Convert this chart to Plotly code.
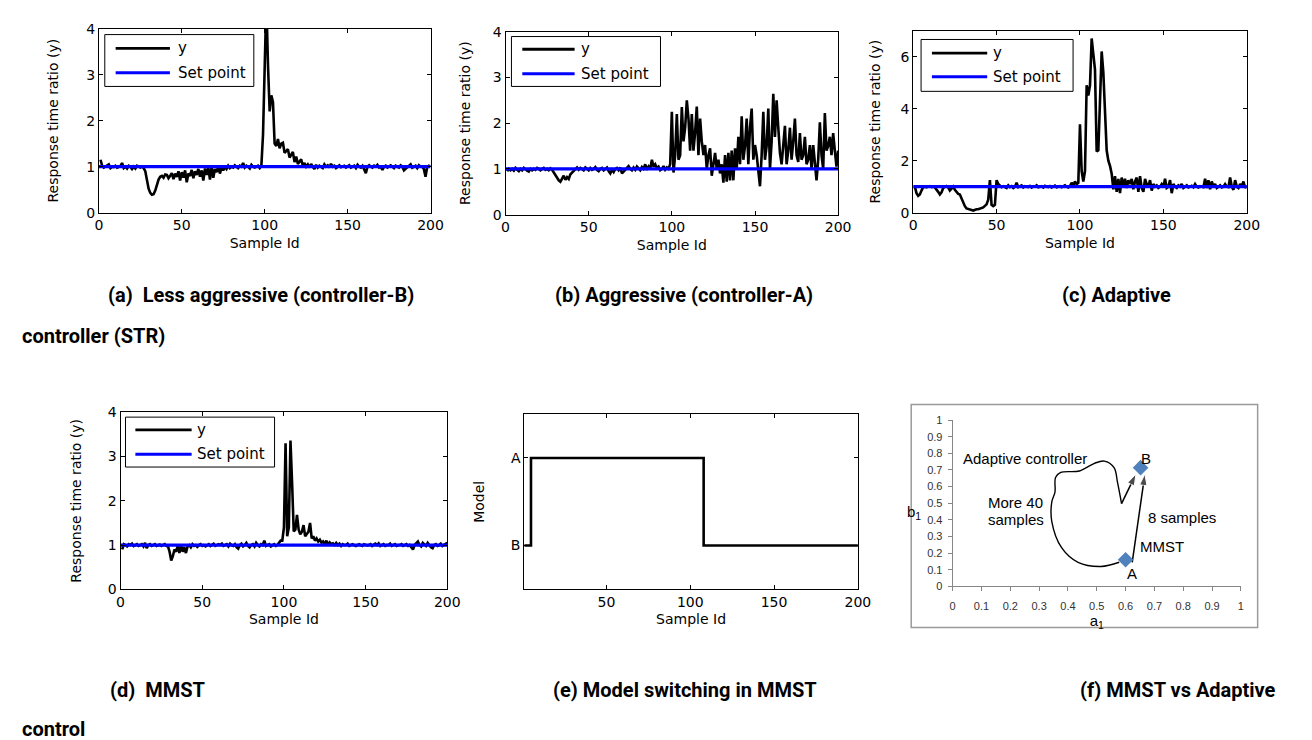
import plotly.graph_objects as go

W, H = 1312, 740

# ---------------- data ----------------
sample_id = list(range(1, 201))

y_less_aggressive = [
    1.15, 1.02, 0.98, 1.0, 1.03, 1.05, 0.97, 1.0, 0.99, 1.02,
    0.98, 1.0, 1.01, 1.08, 0.97, 1.0, 0.96, 1.02, 1.0, 0.95,
    1.0, 0.96, 1.02, 1.0, 0.98, 1.0, 0.97, 0.9, 0.7, 0.52,
    0.43, 0.39, 0.4, 0.48, 0.6, 0.72, 0.78, 0.8, 0.76, 0.83,
    0.82, 0.75, 0.8, 0.86, 0.73, 0.85, 0.78, 0.9, 0.7, 0.88,
    0.76, 0.92, 0.66, 0.85, 0.8, 0.93, 0.75, 0.9, 0.82, 0.95,
    0.78, 0.92, 0.7, 0.96, 0.82, 0.98, 0.72, 1.0, 0.76, 0.95,
    0.88, 1.0, 0.85, 0.98, 0.92, 1.0, 0.95, 1.02, 0.97, 1.0,
    0.98, 1.03, 1.0, 0.97, 1.02, 1.0, 1.08, 0.98, 1.02, 1.0,
    0.96, 1.04, 1.0, 0.98, 1.0, 1.02, 0.97, 1.02, 1.7, 3.0,
    4.6, 3.2, 2.2, 2.55, 2.4, 1.5, 1.45, 1.6, 1.4, 1.5,
    1.52, 1.3, 1.35, 1.38, 1.2, 1.25, 1.32, 1.1, 1.22, 1.06,
    1.1, 1.16, 1.02, 1.08, 1.0, 1.05, 0.98, 1.06, 1.0, 0.95,
    1.04, 0.98, 1.02, 1.0, 0.97, 1.05, 1.0, 1.03, 0.98, 1.06,
    1.0, 1.02, 0.97, 1.0, 1.03, 0.99, 1.0, 1.02, 0.98, 1.0,
    1.03, 0.98, 1.0, 1.02, 0.97, 1.04, 1.0, 0.98, 1.02, 0.93,
    0.86, 1.0, 1.03, 1.0, 0.98, 1.02, 1.0, 1.04, 0.98, 1.0,
    0.93, 1.0, 1.02, 0.98, 1.0, 1.03, 1.0, 0.97, 1.02, 1.0,
    0.98, 1.03, 1.0, 0.92, 0.95, 1.0, 1.02, 1.05, 0.98, 1.0,
    1.02, 0.97, 1.03, 1.0, 1.0, 0.95, 0.78, 1.0, 1.02, 1.0,
]

y_aggressive = [
    0.95, 1.0, 0.97, 1.0, 0.96, 1.02, 0.98, 0.95, 1.0, 0.97,
    1.02, 0.98, 0.96, 0.94, 1.0, 0.97, 1.0, 0.98, 1.02, 1.0,
    0.97, 1.0, 1.02, 0.98, 1.0, 0.97, 1.01, 0.98, 0.92, 0.88,
    0.8, 0.75, 0.72, 0.8, 0.85, 0.76, 0.82, 0.78, 0.88, 0.92,
    0.95, 1.0, 1.03, 0.98, 1.02, 1.0, 0.97, 1.03, 1.0, 0.97,
    1.02, 0.98, 1.0, 1.04, 0.98, 0.95, 1.0, 1.02, 0.97, 1.0,
    1.03, 0.95, 0.9, 0.98, 0.93, 1.0, 1.02, 0.97, 1.03, 0.9,
    0.93, 0.98, 1.02, 1.06, 1.0, 0.97, 1.03, 0.98, 1.05, 1.0,
    0.97, 1.04, 1.0, 1.1, 0.98, 1.05, 1.0, 1.2, 1.05, 1.1,
    1.02, 1.05, 0.97, 1.0, 1.06, 0.98, 1.03, 1.0, 1.1, 2.25,
    0.92, 1.3, 2.2, 1.2, 1.3, 2.35, 1.6, 1.9, 2.5, 2.1,
    1.4, 2.2, 1.4, 1.8, 2.36, 1.3, 2.1, 1.6, 1.3, 1.52,
    1.0, 1.3, 1.45, 0.85, 1.1, 1.35, 1.0, 1.2, 0.9, 1.1,
    0.7, 1.3, 0.72, 1.35, 0.75, 1.4, 0.75, 1.45, 1.0, 1.7,
    1.1, 2.15, 1.2, 1.5, 2.1, 1.1, 1.9, 2.32, 1.2, 1.52,
    1.3, 1.0, 0.62, 1.3, 2.25, 1.2, 1.5, 2.32, 1.0, 1.6,
    2.64, 1.7, 2.5, 1.9, 1.35, 1.1, 1.5, 1.94, 1.1, 1.4,
    1.9, 1.2, 1.6, 2.1, 1.3, 1.15, 1.78, 1.2, 1.3, 1.7,
    1.1, 1.2, 1.52, 1.0, 1.52, 1.1, 0.75, 1.2, 2.02, 1.3,
    1.0, 2.22, 1.4, 1.5, 1.7, 1.3, 1.78, 1.4, 1.05, 1.4,
]

y_adaptive = [
    1.0, 0.75, 0.65, 0.7, 0.85, 0.98, 1.0, 0.97, 1.0, 1.02,
    0.98, 1.0, 0.97, 0.9, 0.8, 0.7, 0.78, 0.95, 1.0, 1.02,
    0.97, 0.85, 0.92, 1.0, 0.88, 0.8, 0.72, 0.7, 0.55, 0.38,
    0.25, 0.16, 0.13, 0.12, 0.1, 0.08, 0.12, 0.13, 0.13, 0.15,
    0.16, 0.2, 0.26, 0.32, 0.5, 1.25, 0.3, 0.25, 0.3, 1.25,
    1.1, 1.05, 0.98, 1.02, 1.0, 0.95, 1.05, 0.98, 1.02, 0.95,
    1.0, 1.15, 0.98, 1.0, 1.05, 0.97, 1.02, 1.0, 0.98, 1.03,
    0.97, 1.02, 1.0, 1.05, 0.98, 1.0, 1.02, 0.97, 1.03, 1.0,
    0.98, 1.02, 0.97, 1.0, 1.04, 0.98, 1.0, 1.02, 0.98, 1.0,
    1.05, 1.0, 0.97, 1.02, 1.15, 1.05, 1.2, 1.1, 1.15, 3.4,
    1.6, 1.2, 1.6, 4.9, 4.5, 4.9, 6.7, 6.1, 5.5, 2.35,
    2.4, 4.3, 6.2, 5.4, 4.1, 2.4, 2.0, 1.8, 1.5, 0.9,
    1.4, 0.8, 1.3, 0.75, 1.35, 1.0, 1.3, 0.95, 1.25, 1.1,
    1.3, 0.9, 1.2, 1.35, 0.8, 1.4, 0.95, 0.8, 1.3, 1.1,
    1.0, 1.25, 0.85, 1.1, 1.0, 1.05, 0.95, 1.0, 1.1, 1.0,
    1.3, 0.95, 1.0, 1.25, 0.75, 1.1, 1.0, 0.95, 1.05, 1.0,
    1.1, 0.95, 1.0, 1.05, 0.97, 1.0, 1.03, 0.98, 1.1, 1.0,
    0.97, 1.02, 1.0, 0.98, 1.3, 0.95, 1.25, 0.9, 1.2, 1.0,
    1.1, 0.95, 1.0, 1.05, 0.97, 1.0, 1.1, 1.0, 0.98, 1.35,
    1.0, 0.88, 1.25, 1.0, 0.95, 1.1, 1.0, 1.2, 0.95, 1.05,
]

y_mmst = [
    0.9, 1.02, 1.0, 0.97, 1.02, 1.0, 1.03, 0.98, 1.0, 1.02,
    0.98, 1.0, 1.02, 0.97, 1.05, 0.93, 1.0, 1.02, 0.98, 1.0,
    1.02, 0.98, 1.0, 1.01, 0.98, 1.0, 1.02, 0.98, 0.97, 0.85,
    0.65, 0.75, 0.9, 0.85, 0.98, 0.82, 1.0, 0.85, 0.95, 0.82,
    0.97, 1.0, 0.95, 1.02, 0.98, 1.0, 0.96, 1.0, 1.02, 0.98,
    1.0, 0.97, 1.0, 1.02, 0.98, 1.0, 1.03, 0.98, 1.0, 1.02,
    1.0, 1.03, 0.98, 1.0, 1.02, 0.97, 1.03, 1.0, 0.98, 1.02,
    0.95, 0.92, 1.0, 1.03, 0.97, 1.0, 1.05, 0.98, 0.95, 1.0,
    1.02, 0.97, 1.05, 1.0, 0.97, 1.02, 1.0, 1.1, 0.98, 1.0,
    1.02, 0.97, 1.0, 1.02, 0.98, 1.0, 1.05, 1.1, 1.1, 1.4,
    3.3, 1.2, 1.4, 3.36, 2.4, 1.31, 1.35, 1.68, 1.35, 1.24,
    1.3, 1.45, 1.2, 1.25, 1.3, 1.5, 1.15, 1.2, 1.1, 1.15,
    1.08, 1.12, 1.05, 1.08, 1.02, 1.1, 1.0, 1.06, 1.02, 1.04,
    1.0, 1.05, 1.0, 1.03, 0.98, 1.02, 1.0, 1.0, 1.03, 0.98,
    1.0, 1.02, 1.0, 0.98, 1.0, 1.02, 1.0, 0.98, 1.02, 1.0,
    0.99, 1.0, 1.02, 0.98, 1.0, 1.03, 1.0, 1.04, 0.98, 1.0,
    1.02, 0.98, 1.0, 1.0, 1.03, 0.98, 1.0, 1.02, 0.98, 1.0,
    1.0, 1.02, 0.98, 1.0, 1.02, 0.98, 1.0, 0.95, 0.9, 1.0,
    1.05, 1.08, 1.0, 0.97, 1.05, 1.02, 0.98, 1.05, 1.0, 0.95,
    0.93, 1.0, 1.02, 0.98, 1.0, 1.03, 0.98, 1.0, 1.02, 1.05,
]

setpoint_x = [0, 200]
setpoint_y = [1, 1]

# model switching (e): change points
model_x = [1, 5, 108, 200]
model_state = ["B", "A", "B", "B"]

# (f) parameter plane
adaptive_path_a1 = [0.578, 0.515, 0.435, 0.378, 0.344, 0.344, 0.355, 0.357,
                    0.375, 0.44, 0.492, 0.526, 0.56, 0.572, 0.586]
adaptive_path_b1 = [0.145, 0.12, 0.145, 0.233, 0.39, 0.508, 0.567, 0.655,
                    0.685, 0.694, 0.74, 0.753, 0.714, 0.625, 0.498]
adaptive_arrow_a1 = [0.586, 0.636]
adaptive_arrow_b1 = [0.498, 0.676]
mmst_arrow_a1 = [0.623, 0.667]
mmst_arrow_b1 = [0.145, 0.676]
model_points_a1 = [0.60, 0.652]
model_points_b1 = [0.16, 0.714]
model_point_names = ["A", "B"]

captions = [
    ("(a)  Less aggressive (controller-B)", 95, 285),
    ("(b) Aggressive (controller-A)", 548, 285),
    ("(c) Adaptive", 1062, 285),
    ("controller (STR)", 8, 327),
    ("(d)  MMST", 97, 689),
    ("(e) Model switching in MMST", 546, 689),
    ("(f) MMST vs Adaptive", 1080, 689),
    ("control", 8, 729),
]

# ---------------- layout helpers ----------------
MF = "DejaVu Sans"
EF = "Liberation Sans, Arial, sans-serif"
CF = "Roboto, sans-serif"

boxes = {  # pixel boxes x0, x1, y0(top), y1(bottom)
    1: (88, 424, 13, 201),
    2: (500, 837, 16, 203),
    3: (913, 1251, 15, 201),
    4: (110, 441, 405, 586),
    5: (519, 857, 407, 586),
    6: (953, 1245, 413, 583),
}


def dom(i):
    x0, x1, y0, y1 = boxes[i]
    return [x0 / W, x1 / W], [1 - y1 / H, 1 - y0 / H]


def px(xp):
    return xp / W


def py(yp):
    return 1 - yp / H


fig = go.Figure()

response_series = {1: y_less_aggressive, 2: y_aggressive, 3: y_adaptive, 4: y_mmst}
for i, ys in response_series.items():
    xa = "x" if i == 1 else f"x{i}"
    ya = "y" if i == 1 else f"y{i}"
    fig.add_trace(go.Scatter(x=sample_id, y=ys, mode="lines", name="y",
                             line=dict(color="black", width=2.6),
                             xaxis=xa, yaxis=ya, showlegend=False))
    fig.add_trace(go.Scatter(x=setpoint_x, y=setpoint_y, mode="lines", name="Set point",
                             line=dict(color="#0000FF", width=3.2),
                             xaxis=xa, yaxis=ya, showlegend=False))

fig.add_trace(go.Scatter(x=model_x, y=model_state, mode="lines", line_shape="hv",
                         line=dict(color="black", width=2.6), xaxis="x5", yaxis="y5",
                         showlegend=False))

fig.add_trace(go.Scatter(x=adaptive_path_a1, y=adaptive_path_b1, mode="lines",
                         line=dict(color="black", width=1.4, shape="spline", smoothing=1.0),
                         xaxis="x6", yaxis="y6", showlegend=False))
for ax_, ay_ in ((adaptive_arrow_a1, adaptive_arrow_b1), (mmst_arrow_a1, mmst_arrow_b1)):
    fig.add_trace(go.Scatter(x=ax_, y=ay_, mode="lines+markers",
                             line=dict(color="black", width=1.5),
                             marker=dict(symbol=["circle", "arrow"], size=[1, 12], color="black",
                                         angleref="previous"),
                             xaxis="x6", yaxis="y6", showlegend=False))
fig.add_trace(go.Scatter(x=model_points_a1, y=model_points_b1, mode="markers",
                         marker=dict(symbol="diamond", size=12, color="#4F81BD"),
                         xaxis="x6", yaxis="y6", showlegend=False))

layout = dict(width=W, height=H, margin=dict(l=0, r=0, t=0, b=0),
              paper_bgcolor="white", plot_bgcolor="white", showlegend=False)


def matlab_x(i, rng, tickvals, title="Sample Id"):
    d, _ = dom(i)
    return dict(domain=d, range=rng, tickvals=tickvals, ticks="inside", ticklen=4,
                showline=True, mirror="ticks", linecolor="black", tickcolor="black",
                linewidth=1, zeroline=False, showgrid=False,
                tickfont=dict(family=MF, size=14, color="black"),
                title=dict(text=title, font=dict(family=MF, size=14, color="black"), standoff=5),
                anchor="y" if i == 1 else f"y{i}")


def matlab_y(i, rng, tickvals, title="Response time ratio (y)", ticktext=None, standoff=18):
    _, d = dom(i)
    r = dict(domain=d, range=rng, tickvals=tickvals, ticks="inside", ticklen=4,
             showline=True, mirror="ticks", linecolor="black", tickcolor="black",
             linewidth=1, zeroline=False, showgrid=False,
             tickfont=dict(family=MF, size=14, color="black"),
             title=dict(text=title, font=dict(family=MF, size=14, color="black"), standoff=standoff),
             anchor="x" if i == 1 else f"x{i}")
    if ticktext is not None:
        r["ticktext"] = ticktext
    return r


xt = [0, 50, 100, 150, 200]
layout["xaxis"] = matlab_x(1, [0, 200], xt)
layout["yaxis"] = matlab_y(1, [0, 4], [0, 1, 2, 3, 4], standoff=24)
layout["xaxis2"] = matlab_x(2, [0, 200], xt)
layout["yaxis2"] = matlab_y(2, [0, 4], [0, 1, 2, 3, 4], standoff=18)
layout["xaxis3"] = matlab_x(3, [0, 200], xt)
layout["yaxis3"] = matlab_y(3, [0, 7], [0, 2, 4, 6], standoff=16)
layout["xaxis4"] = matlab_x(4, [0, 200], xt)
layout["yaxis4"] = matlab_y(4, [0, 4], [0, 1, 2, 3, 4], standoff=22)
layout["xaxis5"] = matlab_x(5, [1, 200], [50, 100, 150, 200])
y5 = matlab_y(5, [-0.5, 1.5], ["B", "A"], title="Model", standoff=22)
y5.update(type="category", categoryorder="array", categoryarray=["B", "A"])
layout["yaxis5"] = y5

dx6, dy6 = dom(6)
excel_axis_common = dict(range=[0, 1], dtick=0.1, tick0=0, ticks="outside", ticklen=4,
                         showline=True, mirror=False, linecolor="#868686", tickcolor="#868686",
                         linewidth=1, zeroline=False, showgrid=False,
                         tickfont=dict(family=EF, size=11, color="#333333"))
layout["xaxis6"] = dict(domain=dx6, anchor="y6", ticklabelstandoff=5,
                        title=dict(text="a<sub>1</sub>", font=dict(family=EF, size=15, color="black"),
                                   standoff=0), **excel_axis_common)
layout["yaxis6"] = dict(domain=dy6, anchor="x6", ticklabelstandoff=3, **excel_axis_common)

shapes = []
annotations = []

# MATLAB-style legends
legend_offsets = {1: (6, 157, 6, 59, 20, 45, 17, 72, 78),
                  2: (6, 157, 5, 56, 18, 43, 17, 70, 74),
                  3: (8, 162, 9, 62, 23, 47, 19, 75, 79),
                  4: (5, 156, 5, 56, 18, 43, 15, 72, 75)}
for i, (bx0, bx1, by0, by1, r1, r2, lx0, lx1, tx) in legend_offsets.items():
    X0, _, Y0, _ = boxes[i]
    shapes.append(dict(type="rect", xref="paper", yref="paper",
                       x0=px(X0 + bx0), x1=px(X0 + bx1), y0=py(Y0 + by1), y1=py(Y0 + by0),
                       line=dict(color="black", width=1), fillcolor="white", layer="above"))
    for rr, col, lab in [(r1, "black", "y"), (r2, "#0000FF", "Set point")]:
        shapes.append(dict(type="line", xref="paper", yref="paper",
                           x0=px(X0 + lx0), x1=px(X0 + lx1), y0=py(Y0 + rr), y1=py(Y0 + rr),
                           line=dict(color=col, width=2.8 if col == "black" else 3), layer="above"))
        annotations.append(dict(x=px(X0 + tx), y=py(Y0 + rr), xref="paper", yref="paper",
                                text=lab, showarrow=False, xanchor="left", yanchor="middle",
                                font=dict(family=MF, size=15, color="black")))

# Excel chart frame
shapes.append(dict(type="rect", xref="paper", yref="paper", x0=px(911), x1=px(1262),
                   y0=py(625), y1=py(397), line=dict(color="#9a9a9a", width=1.5), layer="below"))

f_labels = [("Adaptive controller", 0.252, 0.769), ("More 40", 0.218, 0.504),
            ("samples", 0.22, 0.40), ("8 samples", 0.795, 0.416), ("MMST", 0.726, 0.24),
            (model_point_names[0], 0.623, 0.076), (model_point_names[1], 0.672, 0.769)]
for t, xx, yy in f_labels:
    annotations.append(dict(x=xx, y=yy, xref="x6", yref="y6", text=t, showarrow=False,
                            font=dict(family=EF, size=15, color="black")))
annotations.append(dict(x=px(923), y=py(519), xref="paper", yref="paper", text="b<sub>1</sub>",
                        showarrow=False, font=dict(family=EF, size=15, color="black")))

for t, xx, yy in captions:
    annotations.append(dict(x=px(xx), y=py(yy), xref="paper", yref="paper", text=f"<b>{t}</b>",
                            showarrow=False, xanchor="left", yanchor="middle",
                            font=dict(family=CF, size=20, color="black")))

layout["shapes"] = shapes
layout["annotations"] = annotations
fig.update_layout(**layout)
fig.write_html("out.html")
